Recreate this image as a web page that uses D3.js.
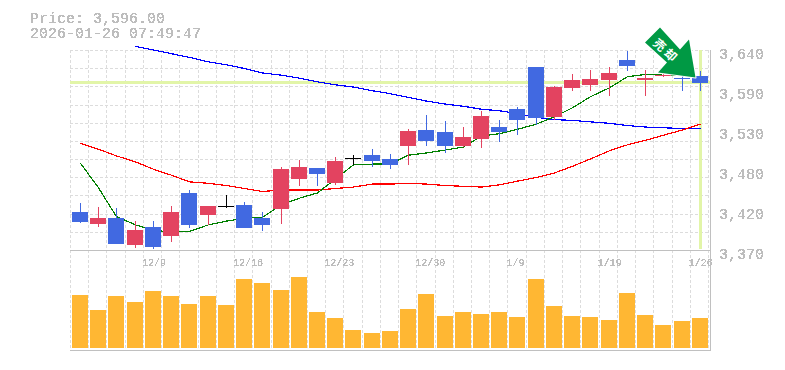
<!DOCTYPE html>
<html>
<head>
<meta charset="utf-8">
<style>
  html, body { margin: 0; padding: 0; background: #fff; }
  svg { display: block; }
  .label { font-family: "Liberation Mono", monospace; fill: #bdbdbd; }
</style>
<script src="https://cdn.jsdelivr.net/npm/d3@7"></script>
</head>
<body>
<div id="chart"></div>
<script>
// Trading days
const dates = ["12/3","12/4","12/5","12/8","12/9","12/10","12/11","12/12","12/15","12/16","12/17","12/18","12/19","12/22","12/23","12/24","12/25","12/26","12/29","12/30","1/5","1/6","1/7","1/8","1/9","1/13","1/14","1/15","1/16","1/19","1/20","1/21","1/22","1/23","1/26"];
const dateLabels = ["12/9","12/16","12/23","12/30","1/9","1/19","1/26"];
const priceLabels = [3640, 3586, 3532, 3478, 3424, 3370];

// Candles
const open = [3421,3405,3413,3377,3401,3389,3447,3417,3430,3431,3413,3425,3466,3481,3460,3494,3498,3493,3510,3532,3529,3510,3520,3536,3560,3617,3550,3589,3593,3600,3626,3600,3605,3602,3605];
const close = [3408,3413,3378,3397,3374,3421,3404,3429,3430,3400,3404,3479,3482,3473,3490,3494,3490,3485,3531,3517,3510,3523,3551,3529,3546,3548,3590,3600,3601,3609,3618,3602,3606,3601,3596];
const high = [3433,3428,3427,3409,3409,3429,3451,3429,3444,3435,3421,3482,3491,3481,3496,3498,3506,3500,3533,3552,3544,3536,3558,3545,3563,3617,3591,3608,3613,3617,3639,3613,3610,3607,3612];
const low = [3406,3401,3378,3373,3371,3381,3400,3404,3427,3400,3396,3405,3456,3456,3458,3485,3482,3479,3485,3510,3501,3509,3508,3516,3525,3539,3546,3585,3585,3578,3612,3578,3603,3585,3585];

// Moving averages
const maShort = [3487,3454,3415,3404,3396,3395,3395,3404,3409,3413,3414,3431,3440,3447,3466,3485,3486,3486,3498,3501,3505,3509,3524,3527,3533,3540,3550,3562,3577,3589,3604,3607,3606,3605,3604];
const maMid = [3514,3506,3497,3489,3479,3471,3462,3460,3457,3453,3449,3451,3451,3451,3453,3455,3459,3459,3460,3459,3457,3456,3455,3458,3463,3468,3474,3483,3493,3504,3512,3518,3525,3532,3540];
const maLong = [null,null,null,3645,3640,3635,3630,3624,3620,3615,3609,3606,3602,3597,3593,3590,3585,3581,3576,3571,3567,3564,3560,3558,3554,3549,3546,3545,3543,3541,3538,3536,3535,3534,3534];

// Volume
const volume = [53,38,52,46,57,52,44,52,43,69,65,58,71,36,30,18,15,17,39,54,32,36,34,36,31,69,42,32,31,28,55,33,23,27,30];

const lastPrice = 3596;
const titleLines = ["Price: 3,596.00", "2026-01-26 07:49:47"];
const signalText = "売却";

const blue = "#4169e1";
const red = "#e34360";
const orange = "#ffb733";
const gridColor = "#dcdcdc";
const frameColor = "#c0c0c0";
const hiliteColor = "#e2f5a8";

const width = 785;
const height = 370;
const left = 71;
const right = 709;

const xScale = d3.scaleBand().domain(dates).range([left, right]);
const yScale = d3.scaleLinear().domain([3370, 3640]).range([250, 50]);
const volScale = d3.scaleLinear().domain([0, 98]).range([348, 250]);

// Left edge of a candle slot, rounded so the bars stay on whole pixels
const slot = (d) => Math.round(xScale(d));
const mid = (d) => slot(d) + 9;

const svg = d3
  .select("#chart")
  .append("svg")
  .attr("width", width)
  .attr("height", height);

// Threshold the text alpha to get the hard bitmap look
svg
  .append("defs")
  .append("filter")
  .attr("id", "hard")
  .attr("filterUnits", "userSpaceOnUse")
  .attr("x", -800)
  .attr("y", -400)
  .attr("width", 1600)
  .attr("height", 800)
  .append("feComponentTransfer")
  .append("feFuncA")
  .attr("type", "discrete")
  .attr("tableValues", "0 1 1");

// Grid
const gridTicks = d3.range(12).map((k) => 3370 + (k * 270) / 11);
svg
  .append("g")
  .attr("shape-rendering", "crispEdges")
  .selectAll("line")
  .data(gridTicks)
  .join("line")
  .attr("x1", 70)
  .attr("x2", 710)
  .attr("y1", (d) => Math.round(yScale(d)) + 0.5)
  .attr("y2", (d) => Math.round(yScale(d)) + 0.5)
  .attr("stroke", gridColor)
  .attr("stroke-dasharray", "3,2");

svg
  .append("g")
  .attr("shape-rendering", "crispEdges")
  .selectAll("line")
  .data(dates.concat("end"))
  .join("line")
  .attr("x1", (d) => (d == "end" ? right : slot(d)) - 0.5)
  .attr("x2", (d) => (d == "end" ? right : slot(d)) - 0.5)
  .attr("y1", 50)
  .attr("y2", 350)
  .attr("stroke", gridColor)
  .attr("stroke-dasharray", "3,2");

// Frame
const frame = svg
  .append("g")
  .attr("shape-rendering", "crispEdges")
  .attr("stroke", frameColor);
frame.append("line").attr("x1", 70).attr("x2", 711).attr("y1", 250.5).attr("y2", 250.5);
frame.append("line").attr("x1", 70).attr("x2", 711).attr("y1", 350.5).attr("y2", 350.5);
frame.append("line").attr("x1", 710.5).attr("x2", 710.5).attr("y1", 50).attr("y2", 351);

// Last price / last date highlight
const hilite = svg.append("g").attr("shape-rendering", "crispEdges").attr("fill", hiliteColor);
hilite
  .append("rect")
  .attr("x", 70)
  .attr("y", Math.round(yScale(lastPrice)) - 2)
  .attr("width", 640)
  .attr("height", 3);
hilite
  .append("rect")
  .attr("x", mid(dates[34]) - 1)
  .attr("y", 50)
  .attr("width", 3)
  .attr("height", 199);

// Moving average lines
const maLine = d3
  .line()
  .defined((d) => d != null)
  .x((d, i) => mid(dates[i]) + 0.5)
  .y((d) => yScale(d));

[[maLong, "#0000ff"], [maMid, "#ff0000"], [maShort, "#008000"]].forEach(([series, color]) => {
  svg
    .append("path")
    .attr("d", maLine(series))
    .attr("fill", "none")
    .attr("stroke", color)
    .attr("stroke-width", 1.2)
    .attr("shape-rendering", "crispEdges");
});

// Candles
const candleColor = (i) => (close[i] > open[i] ? red : close[i] < open[i] ? blue : "#000");
const candles = svg
  .append("g")
  .attr("shape-rendering", "crispEdges")
  .selectAll("g")
  .data(dates)
  .join("g");

candles
  .append("rect")
  .attr("x", (d) => mid(d))
  .attr("y", (d, i) => Math.round(yScale(high[i])))
  .attr("width", 1)
  .attr("height", (d, i) => Math.max(1, Math.round(yScale(low[i])) - Math.round(yScale(high[i]))))
  .attr("fill", (d, i) => candleColor(i));

candles
  .append("rect")
  .attr("x", (d) => slot(d) + 1)
  .attr("y", (d, i) => Math.round(yScale(Math.max(open[i], close[i]))))
  .attr("width", 16)
  .attr("height", (d, i) =>
    Math.max(1, Math.round(yScale(Math.min(open[i], close[i]))) - Math.round(yScale(Math.max(open[i], close[i]))))
  )
  .attr("fill", (d, i) => candleColor(i));

// Volume bars
svg
  .append("g")
  .attr("shape-rendering", "crispEdges")
  .selectAll("rect")
  .data(volume)
  .join("rect")
  .attr("x", (d, i) => slot(dates[i]) + 1)
  .attr("y", (d) => volScale(d))
  .attr("width", 16)
  .attr("height", (d) => volScale(0) - volScale(d))
  .attr("fill", orange);

// Signal arrow, placed relative to the last candle
const ax = mid(dates[34]);
const ay = yScale(lastPrice);
const arrowShape = [[-40, -55], [-55, -40], [-33, -20], [-42, -10], [-4.5, -5], [-11, -43], [-20, -33]];
svg
  .append("polygon")
  .attr("points", arrowShape.map((p) => [ax + p[0], ay + p[1]].join(",")).join(" "))
  .attr("fill", "#009944")
  .attr("stroke", "#fff")
  .attr("stroke-width", 2)
  .attr("stroke-linejoin", "round")
  .attr("paint-order", "stroke");

svg
  .append("text")
  .attr("transform", "translate(" + (ax - 33) + "," + (ay - 32.5) + ") rotate(42)")
  .attr("text-anchor", "middle")
  .attr("dominant-baseline", "central")
  .attr("font-family", "Noto Sans CJK JP")
  .attr("font-weight", 700)
  .attr("font-size", 12)
  .attr("letter-spacing", 3)
  .attr("fill", "#fff")
  .text(signalText);

// Axes
const yAxis = d3
  .axisRight(yScale)
  .tickValues(priceLabels)
  .tickSize(0)
  .tickPadding(0)
  .tickFormat((d) => d3.format(",")(Math.round(d / 10) * 10));

const xAxis = d3.axisBottom(xScale).tickValues(dateLabels).tickSize(0);

const yAxisG = svg.append("g").attr("transform", "translate(719,0)").call(yAxis);
yAxisG.select(".domain").remove();
yAxisG
  .selectAll("text")
  .attr("class", "label")
  .attr("dy", 8)
  .attr("font-size", 15);

const xAxisG = svg.append("g").attr("transform", "translate(0,250)").call(xAxis);
xAxisG.select(".domain").remove();
xAxisG
  .selectAll("text")
  .attr("class", "label")
  .attr("text-anchor", "start")
  .attr("x", -xScale.bandwidth() / 2 - 2)
  .attr("y", 16)
  .attr("dy", 0)
  .attr("font-size", 10);

// Title
svg
  .append("g")
  .selectAll("text")
  .data(titleLines)
  .join("text")
  .attr("class", "label")
  .attr("x", 30)
  .attr("y", (d, i) => 23 + i * 15)
  .attr("font-size", 15)
  .text((d) => d);

svg.selectAll(".label").attr("filter", "url(#hard)");
</script>
</body>
</html>
